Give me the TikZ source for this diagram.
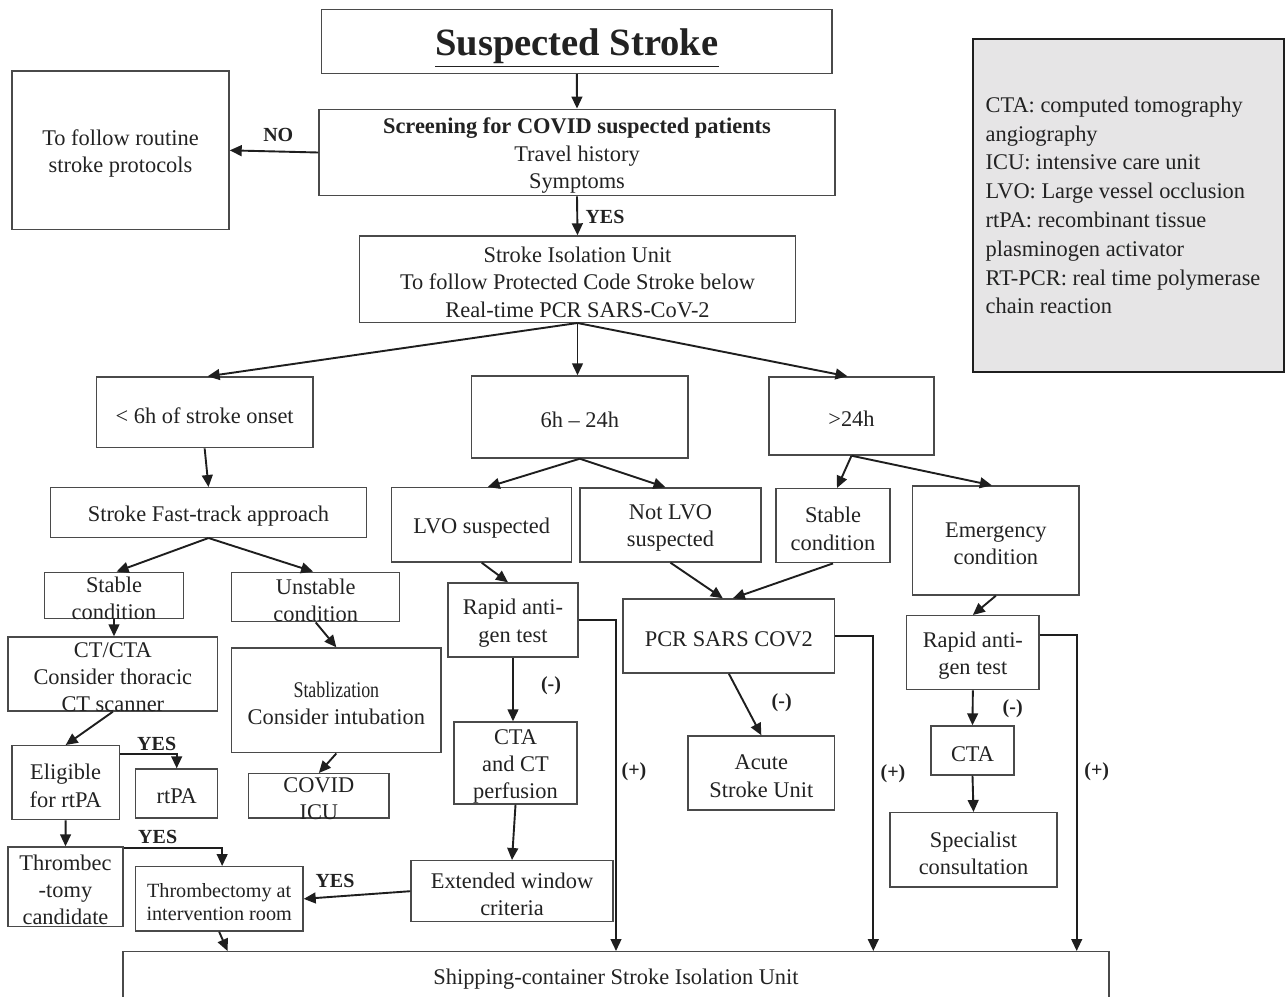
\documentclass[tikz,border=0pt]{standalone}
\usepackage{fontspec}
\setmainfont{Liberation Serif}
\usepackage{graphicx}
\usetikzlibrary{arrows.meta,fit}
\definecolor{boxc}{HTML}{4A4A4A}
\definecolor{arrc}{HTML}{1E1E1E}
\definecolor{txtc}{HTML}{222222}
\definecolor{legfill}{HTML}{E6E5E6}
\begin{document}
\begin{tikzpicture}[x=0.5pt,y=-0.5pt,
  box/.style={draw=boxc, line width=0.7pt, inner sep=0pt},
  lbl/.style={align=center, text=txtc, inner sep=0pt, yshift=-1.6pt, font=\fontsize{11.2}{13.6}\selectfont},
  arr/.style={draw=arrc, line width=0.95pt, -{Triangle[length=6pt,width=5.4pt]}},
  tag/.style={font=\bfseries\fontsize{10}{12}\selectfont, text=txtc, inner sep=0pt}]
\fill[white] (0,0) rectangle (1285,996);
\clip (0,0) rectangle (1285,996);
\useasboundingbox (0,0) rectangle (1285,996);

% boxes
\node[box, fit={(321.7,9.3) (832,73.3)}, label={[lbl,yshift=-1.8pt]center:{\fontsize{19.3}{23}\selectfont\bfseries\underline{Suspected Stroke}}}] (title) {};
\node[box, fit={(12,71) (229,229.7)}, label={[lbl]center:{To follow routine\\stroke protocols}}] (left) {};
\node[box, fit={(319,109.3) (835,195.7)}, label={[lbl]center:{\textbf{Screening for COVID suspected patients}\\Travel history\\Symptoms}}] (screen) {};
\node[box, fit={(359.3,236) (795.7,322.3)}, label={[lbl]center:{Stroke Isolation Unit\\To follow Protected Code Stroke below\\Real-time PCR SARS-CoV-2}}] (iso) {};
\node[box, fit={(96.3,377) (313,447.7)}, label={[lbl]center:{< 6h of stroke onset}}] (lt6) {};
\node[box, fit={(471.7,376) (688,458)}, label={[lbl]center:{6h – 24h}}] (h624) {};
\node[box, fit={(769,377) (934,455)}, label={[lbl]center:{>24h}}] (gt24) {};
\node[box, fit={(50.3,487.7) (366.7,537.3)}, label={[lbl]center:{Stroke Fast-track approach}}] (fast) {};
\node[box, fit={(44.7,572.3) (183.3,618.7)}, label={[lbl]center:{Stable\\condition}}] (stab1) {};
\node[box, fit={(231.7,572.3) (399.7,621.7)}, label={[lbl]center:{Unstable\\condition}}] (unst) {};
\node[box, fit={(8,637) (217.7,711)}, label={[lbl]center:{CT/CTA\\Consider thoracic\\CT scanner}}] (ctcta) {};
\node[box, fit={(231.7,648) (441,752.7)}, label={[lbl]center:{\scalebox{0.8}[1]{Stablization}\\Consider intubation}}] (stabz) {};
\node[box, fit={(248.7,773.7) (389,818)}, label={[lbl]center:{COVID\\ICU}}] (icu) {};
\node[box, fit={(12,745.7) (119.3,819.7)}, label={[lbl]center:{Eligible\\for rtPA}}] (elig) {};
\node[box, fit={(135.7,769) (217.7,818)}, label={[lbl]center:{rtPA}}] (rtpa) {};
\node[box, fit={(8,847) (123,926.7)}, label={[lbl]center:{Thrombec\\-tomy\\candidate}}] (thr) {};
\node[box, fit={(135.3,866.7) (303,931)}, label={[lbl,font=\fontsize{10.1}{11.7}\selectfont]center:{Thrombectomy at\\intervention room}}] (room) {};
\node[box, fit={(411,860.7) (613,921.7)}, label={[lbl]center:{Extended window\\criteria}}] (ext) {};
\node[box, fit={(391.7,487.7) (571.7,562)}, label={[lbl]center:{LVO suspected}}] (lvo) {};
\node[box, fit={(580,488) (761,562)}, label={[lbl]center:{Not LVO\\suspected}}] (nlvo) {};
\node[box, fit={(776,488.7) (890,562.7)}, label={[lbl]center:{Stable\\condition}}] (stab2) {};
\node[box, fit={(912.7,486) (1079,595)}, label={[lbl]center:{Emergency\\condition}}] (emer) {};
\node[box, fit={(448,583) (578,657)}, label={[lbl]center:{Rapid anti-\\gen test}}] (rap1) {};
\node[box, fit={(623,599) (834.7,673)}, label={[lbl]center:{PCR SARS COV2}}] (pcr) {};
\node[box, fit={(454,722) (577,804)}, label={[lbl]center:{CTA\\and CT\\perfusion}}] (ctp) {};
\node[box, fit={(688,736) (834.7,810)}, label={[lbl]center:{Acute\\Stroke Unit}}] (asu) {};
\node[box, fit={(906.7,615.7) (1039,689.7)}, label={[lbl]center:{Rapid anti-\\gen test}}] (rap2) {};
\node[box, fit={(931,726) (1014,775)}, label={[lbl]center:{CTA}}] (cta2) {};
\node[box, fit={(890,812.7) (1057,887)}, label={[lbl]center:{Specialist\\consultation}}] (spec) {};
\node[box, fit={(123,951.7) (1109,1004)}, label={[lbl,yshift=0.8pt]center:{Shipping-container Stroke Isolation Unit}}] (ship) {};

% legend
\node[draw=arrc, line width=1pt, fill=legfill, inner sep=0pt, fit={(972.7,39.3) (1284,371.7)}] (legend) {};
\node[anchor=west, align=left, inner sep=0pt, text=txtc, font=\fontsize{11.2}{14.4}\selectfont] (legtext) at ([xshift=6.8pt]legend.west)
  {CTA: computed tomography\\angiography\\ICU: intensive care unit\\LVO: Large vessel occlusion\\rtPA: recombinant tissue\\plasminogen activator\\RT-PCR: real time polymerase\\chain reaction};

% connectors
\draw[arr] (title.south) -- (screen.north);
\draw[arr] (screen.west) -- (left.east);
\draw[arr] (screen.south) -- (iso.north);
\draw[arr] (iso.south) -- ([xshift=1.5pt]lt6.north);
\draw[arr] (iso.south) -- (iso.south |- h624.north);
\draw[arr] (iso.south) -- ([xshift=-2pt]gt24.north);
\draw[arr] (lt6.south) -- (fast.north);
\draw[arr] (fast.south) -- ([xshift=1.3pt]stab1.north);
\draw[arr] (fast.south) -- ([xshift=-1.3pt]unst.north);
\draw[arr] (stab1.south) -- (stab1.south |- ctcta.north);
\draw[arr] (unst.south) -- (stabz.north);
\draw[arr] (stabz.south) -- (icu.north);
\draw[arr] (ctcta.south) -- (elig.north);
\draw[arr] ([yshift=-4.65pt]elig.north east) -| (rtpa.north);
\draw[arr] (elig.south) -- (thr.north);
\draw[arr] ([yshift=-0.9pt]thr.north east) -| ([xshift=1.5pt]room.north);
\draw[arr] (ext.west) -- (room.east);
\draw[arr] (room.south) -- ([xshift=4.2pt]room.south |- ship.north);
\draw[arr] (h624.south) -- ([xshift=3pt]lvo.north);
\draw[arr] (h624.south) -- ([xshift=-2.5pt]nlvo.north);
\draw[arr] (gt24.south) -- ([xshift=2pt]stab2.north);
\draw[arr] (gt24.south) -- ([xshift=-2pt]emer.north);
\draw[arr] (lvo.south) -- ([xshift=-2.5pt]rap1.north);
\draw[arr] (nlvo.south) -- ([xshift=-3pt]pcr.north);
\draw[arr] (stab2.south) -- ([xshift=2pt]pcr.north);
\draw[arr] (rap1.east) -| (ship.north);
\draw[arr] (pcr.east) -| ([xshift=128.65pt]ship.north);
\draw[arr] ([yshift=-9.8pt]rap2.north east) -| ([xshift=230.35pt]ship.north);
\draw[arr] (rap1.south) -- (rap1.south |- ctp.north);
\draw[arr] (ctp.south) -- (ext.north);
\draw[arr] (pcr.south) -- (asu.north);
\draw[arr] (emer.south) -- (rap2.north);
\draw[arr] (rap2.south) -- (cta2.north);
\draw[arr] (cta2.south) -- (spec.north);

% connector labels
\node[tag] (no) at (278.3,135) {NO};
\node[tag] (yes1) at (605,216.7) {YES};
\node[tag] (yes2) at (156.7,744.3) {YES};
\node[tag] (yes3) at (157.7,837.3) {YES};
\node[tag] (yes4) at (335,881) {YES};
\node[tag] (m1) at (551,686) {(-)};
\node[tag] (m2) at (781.7,703) {(-)};
\node[tag] (m3) at (1012.7,709) {(-)};
\node[tag] (p1) at (634,771.7) {(+)};
\node[tag] (p2) at (893,774) {(+)};
\node[tag] (p3) at (1096.7,771.7) {(+)};
\end{tikzpicture}
\end{document}
